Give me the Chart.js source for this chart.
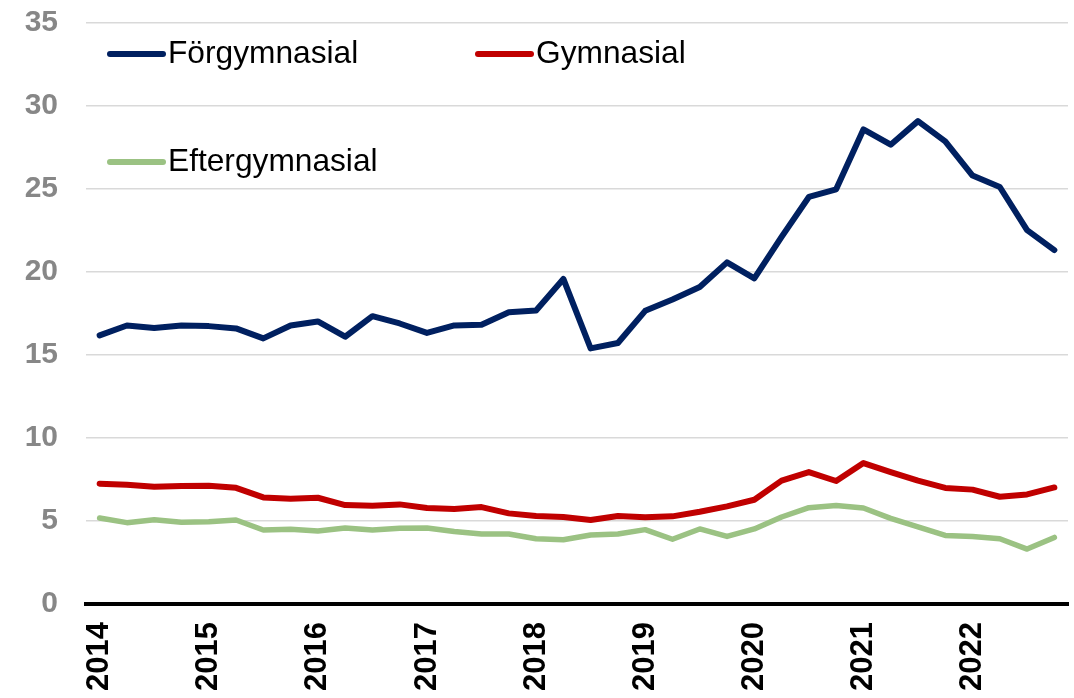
<!DOCTYPE html>
<html>
<head>
<meta charset="utf-8">
<script src="https://cdn.jsdelivr.net/npm/chart.js@4/dist/chart.umd.min.js"></script>
<style>
    body { margin: 0; background: #fff; }
    #wrap { width: 1074px; height: 698px; }
</style>
</head>
<body>
<div id="wrap"><canvas id="chart"></canvas></div>
<script>
// ================== DATA ==================
const quarters = [
    '2014K1','2014K2','2014K3','2014K4','2015K1','2015K2','2015K3','2015K4',
    '2016K1','2016K2','2016K3','2016K4','2017K1','2017K2','2017K3','2017K4',
    '2018K1','2018K2','2018K3','2018K4','2019K1','2019K2','2019K3','2019K4',
    '2020K1','2020K2','2020K3','2020K4','2021K1','2021K2','2021K3','2021K4',
    '2022K1','2022K2','2022K3','2022K4'
];
const yearLabels = ['2014','2015','2016','2017','2018','2019','2020','2021','2022'];

const forgymnasial = [16.18, 16.78, 16.62, 16.78, 16.74, 16.6, 16.0, 16.78, 17.02, 16.1, 17.34, 16.9,
                      16.33, 16.78, 16.82, 17.58, 17.68, 19.58, 15.4, 15.72, 17.66, 18.34, 19.1, 20.58,
                      19.62, 22.12, 24.52, 24.98, 28.59, 27.67, 29.09, 27.87, 25.81, 25.12, 22.52, 21.32];
const gymnasial    = [7.25, 7.19, 7.07, 7.11, 7.13, 7.0, 6.42, 6.34, 6.4, 5.96, 5.92, 6.0,
                      5.78, 5.72, 5.84, 5.46, 5.3, 5.24, 5.06, 5.3, 5.22, 5.28, 5.56, 5.88,
                      6.28, 7.43, 7.95, 7.41, 8.49, 7.95, 7.43, 6.99, 6.89, 6.46, 6.6, 7.02];
const eftergymnasial = [5.18, 4.9, 5.08, 4.92, 4.96, 5.06, 4.46, 4.5, 4.4, 4.58, 4.46, 4.56,
                        4.58, 4.37, 4.22, 4.22, 3.93, 3.87, 4.16, 4.22, 4.48, 3.9, 4.52, 4.07,
                        4.52, 5.24, 5.8, 5.94, 5.78, 5.16, 4.64, 4.13, 4.07, 3.93, 3.31, 4.01];

const yMin = 0, yMax = 35, yStep = 5;

const FONT = "'Liberation Sans', Arial, sans-serif";

// ================== LEGEND (drawn inside plot) ==================
const legendPlugin = {
    id: 'insideLegend',
    afterDatasetsDraw(chart) {
        const ctx = chart.ctx;
        const spots = [{ x: 110, y: 54 }, { x: 478, y: 54 }, { x: 110, y: 162 }];
        ctx.save();
        chart.data.datasets.forEach((ds, i) => {
            const p = spots[i];
            ctx.beginPath();
            ctx.strokeStyle = ds.borderColor;
            ctx.lineWidth = 6;
            ctx.lineCap = 'round';
            ctx.moveTo(p.x, p.y);
            ctx.lineTo(p.x + 53, p.y);
            ctx.stroke();

            ctx.fillStyle = '#000';
            ctx.font = '31.7px ' + FONT;
            ctx.textBaseline = 'middle';
            ctx.textAlign = 'left';
            ctx.fillText(ds.label, p.x + 58, p.y);
        });
        ctx.restore();
    }
};

function lineSet(label, data, color, width) {
    return {
        label: label,
        data: data,
        borderColor: color,
        backgroundColor: color,
        borderWidth: width,
        pointRadius: 0,
        tension: 0,
        borderCapStyle: 'round',
        borderJoinStyle: 'round',
        fill: false
    };
}

new Chart(document.getElementById('chart'), {
    type: 'line',
    data: {
        labels: quarters,
        datasets: [
            lineSet('Förgymnasial', forgymnasial, '#002060', 6),
            lineSet('Gymnasial', gymnasial, '#C00000', 6),
            lineSet('Eftergymnasial', eftergymnasial, '#9BC283', 5.5)
        ]
    },
    options: {
        responsive: true,
        maintainAspectRatio: false,
        animation: false,
        layout: { padding: { top: 23, right: 6, left: 0, bottom: 0 } },
        plugins: {
            legend: { display: false },
            tooltip: { enabled: false }
        },
        scales: {
            x: {
                offset: true,
                grid: { display: false, drawTicks: false },
                border: { display: true, color: '#000', width: 4 },
                ticks: {
                    autoSkip: false,
                    maxRotation: 90,
                    minRotation: 90,
                    padding: 18,
                    color: '#000',
                    font: { family: FONT, size: 31, weight: 'bold' },
                    callback: (v, i) => i % 4 === 0 ? yearLabels[i / 4] : ''
                },
                afterFit: s => {
                    s.height = 94;
                    s.paddingLeft = 0;
                    s.paddingRight = 0;
                }
            },
            y: {
                min: yMin,
                max: yMax,
                grid: { color: '#D9D9D9', lineWidth: 1.5, drawTicks: false },
                border: { display: false },
                ticks: {
                    stepSize: yStep,
                    padding: 28,
                    color: '#878787',
                    font: { family: FONT, size: 30, weight: 'bold' }
                },
                afterFit: s => {
                    s.width = 86;
                    s.paddingTop = 0;
                    s.paddingBottom = 0;
                }
            }
        }
    },
    plugins: [legendPlugin]
});
</script>
</body>
</html>
